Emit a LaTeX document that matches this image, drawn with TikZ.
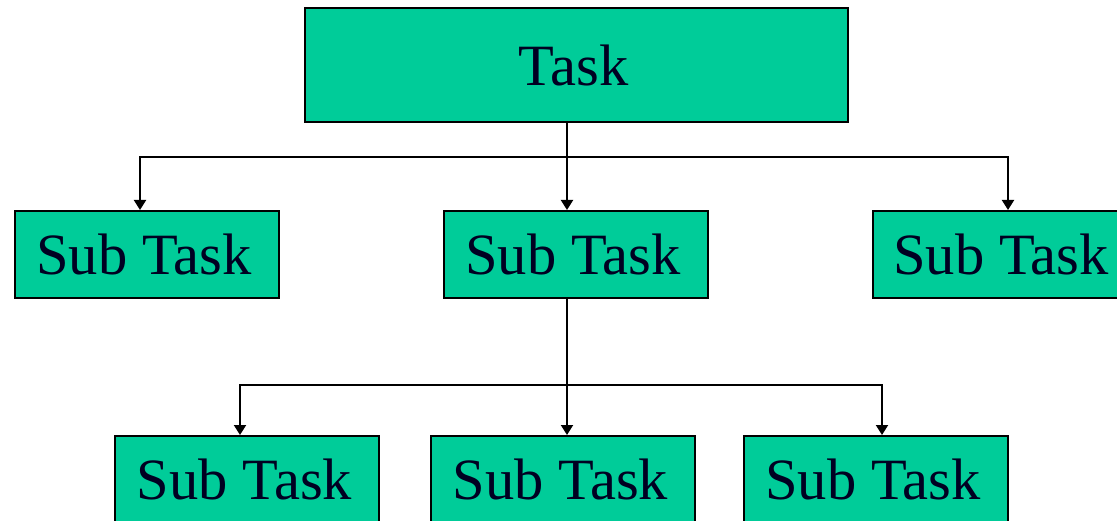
\documentclass[tikz,border=0pt]{standalone}
\usepackage{fontspec}
\setmainfont{Liberation Serif}
\usetikzlibrary{arrows.meta}
\definecolor{boxgreen}{HTML}{00CC99}
\definecolor{txt}{HTML}{000022}
\begin{document}
\begin{tikzpicture}[x=1pt,y=-1pt,
  box/.style={draw=black, line width=2pt, fill=boxgreen, inner sep=0pt, text=txt,
    minimum width=264pt, minimum height=87pt, font=\fontsize{58.5}{58.5}\selectfont},
  arr/.style={line width=2pt, -{Triangle[width=12pt,length=10pt]}}]
\useasboundingbox (0,0) rectangle (1117,521);
\clip (0,0) rectangle (1117,521);
\node[box, minimum width=543pt, minimum height=114pt] (task) at (576.5,65) {Task\kern6pt};
\node[box] (s1) at (147,254.5) {Sub Task\kern6pt};
\node[box] (s2) at (576,254.5) {Sub Task\kern6pt};
\node[box] (s3) at (1005,254.5) {Sub Task\kern8pt};
\node[box] (b1) at (247,479.5) {Sub Task\kern5pt};
\node[box] (b2) at (563,479.5) {Sub Task\kern5pt};
\node[box] (b3) at (875.5,479.5) {Sub Task\kern5pt};
\coordinate (busL) at (140,157);
\coordinate (busM) at (567,157);
\coordinate (busR) at (1008,157);
\coordinate (lowL) at (240,385);
\coordinate (lowM) at (567,385);
\coordinate (lowR) at (882,385);
\draw[arr] (busM |- task.south) -- (busM |- s2.north);
\draw[arr] (busM) -- (busL) -- (busL |- s1.north);
\draw[arr] (busM) -- (busR) -- (busR |- s3.north);
\draw[arr] (lowM |- s2.south) -- (lowM |- b2.north);
\draw[arr] (lowM) -- (lowL) -- (lowL |- b1.north);
\draw[arr] (lowM) -- (lowR) -- (lowR |- b3.north);
\end{tikzpicture}
\end{document}
